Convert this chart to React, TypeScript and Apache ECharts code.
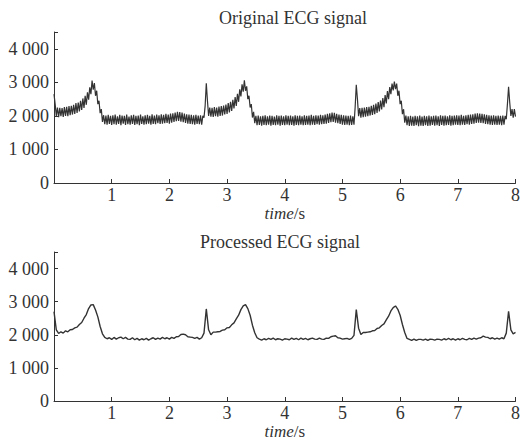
import React, { useEffect, useRef } from "react";
import * as echarts from "echarts";

// sampling steps (seconds)
const DT_ORIGINAL = 0.02;
const DT_PROCESSED = 0.04;

const xTicks = [1, 2, 3, 4, 5, 6, 7, 8];
const yTicks = [0, 1000, 2000, 3000, 4000];

const originalValues = [
  2650, 2350, 2000, 2250, 1960, 2240, 1990, 2230, 1970, 2260,
  2000, 2270, 1990, 2290, 2020, 2300, 2040, 2330, 2060, 2380,
  2090, 2400, 2130, 2450, 2180, 2520, 2240, 2600, 2330, 2700,
  2480, 2850, 2650, 3050, 2780, 2980, 2600, 2750, 2350, 2450,
  2080, 2200, 1820, 2020, 1750, 2010, 1740, 2030, 1760, 2000,
  1730, 2020, 1750, 2040, 1740, 1990, 1760, 2030, 1720, 2010,
  1770, 2000, 1730, 2040, 1750, 1980, 1740, 2020, 1760, 2030,
  1730, 2000, 1750, 2010, 1720, 2040, 1760, 1990, 1740, 2020,
  1750, 2030, 1770, 2000, 1740, 2050, 1760, 2010, 1750, 2040,
  1780, 2020, 1760, 2050, 1770, 2030, 1780, 2060, 1790, 2040,
  1770, 2070, 1800, 2080, 1820, 2100, 1840, 2120, 1850, 2110,
  1830, 2100, 1810, 2070, 1790, 2050, 1770, 2040, 1760, 2030,
  1750, 2020, 1740, 2030, 1760, 2010, 1750, 2020, 1740, 2000,
  1950, 2300, 2970, 2450, 2000, 2250, 1980, 2240, 1970, 2260,
  1990, 2250, 1980, 2280, 2000, 2290, 2010, 2310, 2040, 2340,
  2060, 2380, 2100, 2420, 2150, 2480, 2220, 2560, 2300, 2660,
  2420, 2790, 2580, 2940, 2720, 3060, 2750, 2880, 2500, 2600,
  2250, 2350, 1950, 2120, 1780, 2000, 1720, 2010, 1730, 1990,
  1710, 2000, 1730, 2020, 1720, 1990, 1740, 2010, 1710, 2000,
  1730, 1980, 1720, 2020, 1740, 2000, 1710, 2010, 1730, 1990,
  1720, 2020, 1740, 2000, 1720, 2010, 1730, 1990, 1710, 2020,
  1730, 2000, 1720, 2010, 1740, 1990, 1720, 2020, 1730, 2000,
  1740, 2010, 1720, 2030, 1740, 2000, 1730, 2020, 1750, 2010,
  1740, 2030, 1750, 2020, 1760, 2040, 1770, 2060, 1790, 2080,
  1810, 2100, 1820, 2090, 1800, 2060, 1780, 2040, 1760, 2030,
  1740, 2020, 1730, 2010, 1740, 2000, 1720, 2010, 1730, 1990,
  1740, 2250, 2930, 2500, 1990, 2230, 1950, 2240, 1960, 2250,
  1980, 2260, 1990, 2270, 2010, 2300, 2030, 2330, 2050, 2370,
  2090, 2410, 2130, 2460, 2190, 2530, 2260, 2620, 2370, 2740,
  2500, 2860, 2650, 2960, 2760, 3020, 2800, 2960, 2600, 2750,
  2350, 2450, 2050, 2200, 1800, 2010, 1720, 1990, 1700, 2000,
  1710, 1980, 1700, 2000, 1720, 1990, 1690, 2010, 1710, 1980,
  1700, 2000, 1720, 1990, 1700, 2010, 1710, 1990, 1730, 2000,
  1710, 2010, 1720, 1990, 1700, 2020, 1730, 2000, 1710, 2010,
  1720, 1990, 1730, 2020, 1710, 2000, 1720, 2010, 1740, 2020,
  1730, 2010, 1720, 2030, 1740, 2000, 1730, 2020, 1750, 2030,
  1740, 2040, 1760, 2050, 1770, 2070, 1790, 2080, 1800, 2070,
  1790, 2060, 1780, 2050, 1760, 2030, 1750, 2020, 1740, 2010,
  1730, 2020, 1740, 2000, 1730, 2010, 1740, 2000, 1720, 2010,
  1740, 2000, 1900, 2350, 2870, 2400, 2000, 2200, 1950, 2200,
  1980,
];

const processedValues = [
  2700, 2150, 2040, 2090, 2050, 2120, 2090, 2150, 2160, 2210,
  2230, 2310, 2370, 2500, 2610, 2790, 2900, 2910, 2750, 2540,
  2250, 2030, 1920, 1880, 1910, 1860, 1920, 1870, 1910, 1930,
  1880, 1920, 1870, 1860, 1910, 1850, 1890, 1840, 1880, 1850,
  1890, 1840, 1880, 1910, 1860, 1900, 1870, 1920, 1880, 1910,
  1870, 1920, 1890, 1940, 1950, 2010, 2020, 2000, 1940, 1930,
  1920, 1890, 1920, 1870, 1910, 2050, 2780, 2150, 2000, 2080,
  2080, 2090, 2100, 2140, 2150, 2210, 2220, 2300, 2360, 2480,
  2590, 2760, 2870, 2910, 2790, 2590, 2290, 2060, 1910, 1870,
  1840, 1880, 1850, 1890, 1860, 1900, 1850, 1880, 1870, 1840,
  1880, 1870, 1850, 1900, 1860, 1890, 1850, 1900, 1860, 1890,
  1850, 1880, 1900, 1870, 1860, 1900, 1870, 1860, 1900, 1890,
  1940, 1960, 1970, 1910, 1900, 1870, 1880, 1890, 1860, 1890,
  1980, 2760, 2200, 2010, 2070, 2070, 2080, 2090, 2120, 2130,
  2190, 2210, 2280, 2330, 2450, 2560, 2720, 2820, 2870, 2770,
  2590, 2310, 2070, 1890, 1860, 1830, 1870, 1830, 1860, 1860,
  1840, 1870, 1830, 1870, 1860, 1840, 1870, 1860, 1840, 1880,
  1850, 1890, 1850, 1880, 1840, 1880, 1850, 1890, 1860, 1850,
  1890, 1860, 1900, 1870, 1900, 1910, 1960, 1930, 1920, 1880,
  1910, 1870, 1900, 1870, 1910, 1880, 2050, 2710, 2150, 2030,
  2070,
];

const titles = ["Original ECG signal", "Processed ECG signal"];

const FONT = "Liberation Serif";
const INK = "#333";

function fmtY(v: number): string {
  if (!yTicks.includes(v)) return "";
  if (v >= 1000) {
    const s = String(v);
    return s.slice(0, s.length - 3) + " " + s.slice(s.length - 3);
  }
  return String(v);
}

function fmtX(v: number): string {
  return xTicks.includes(v) ? String(v) : "";
}

export default function App() {
  const ref = useRef<HTMLDivElement>(null);
  useEffect(() => {
    if (!ref.current) return;
    const chart = echarts.init(ref.current, undefined, { renderer: "svg" });
    const toPairs = (arr: number[], dt: number) =>
      arr.map((v, i) => [Number((i * dt).toFixed(3)), v]);

    const grids = [
      { left: 54, top: 32, width: 464, height: 151 },
      { left: 54, top: 252, width: 464, height: 151 },
    ];

    const xAxis = grids.map((_, k) => ({
      type: "value",
      gridIndex: k,
      min: 0,
      max: 8,
      interval: 1,
      axisLine: { show: true, lineStyle: { color: INK, width: 1 } },
      axisTick: { show: true, inside: true, length: 4, lineStyle: { color: INK } },
      splitLine: { show: false },
      axisLabel: {
        formatter: fmtX,
        margin: 3,
        color: INK,
        fontFamily: FONT,
        fontSize: 18,
      },
      name: "{it|time}/s",
      nameLocation: "middle",
      nameGap: 22,
      nameTextStyle: {
        color: INK,
        fontFamily: FONT,
        fontSize: 17,
        rich: {
          it: { fontStyle: "italic", fontFamily: FONT, fontSize: 17, color: INK },
        },
      },
    }));

    const yAxis = grids.map((_, k) => ({
      type: "value",
      gridIndex: k,
      min: 0,
      max: 4500,
      interval: 1000,
      axisLine: { show: true, lineStyle: { color: INK, width: 1 } },
      axisTick: { show: true, inside: true, length: 4, lineStyle: { color: INK } },
      splitLine: { show: false },
      axisLabel: {
        formatter: fmtY,
        margin: 5,
        color: INK,
        fontFamily: FONT,
        fontSize: 18,
      },
    }));

    const option = {
      animation: false,
      backgroundColor: "#fff",
      grid: grids,
      xAxis,
      yAxis,
      graphic: [
        {
          type: "text",
          x: 293,
          y: 18,
          style: {
            text: titles[0],
            align: "center",
            verticalAlign: "middle",
            fontFamily: FONT,
            fontSize: 18,
            fill: INK,
          },
        },
        {
          type: "text",
          x: 280,
          y: 242,
          style: {
            text: titles[1],
            align: "center",
            verticalAlign: "middle",
            fontFamily: FONT,
            fontSize: 18,
            fill: INK,
          },
        },
      ],
      series: [
        {
          type: "line",
          xAxisIndex: 0,
          yAxisIndex: 0,
          data: toPairs(originalValues, DT_ORIGINAL),
          showSymbol: false,
          lineStyle: { color: INK, width: 1.2 },
        },
        {
          type: "line",
          xAxisIndex: 1,
          yAxisIndex: 1,
          data: toPairs(processedValues, DT_PROCESSED),
          showSymbol: false,
          lineStyle: { color: INK, width: 1.4 },
        },
      ],
    };
    chart.setOption(option as any);
    return () => chart.dispose();
  }, []);
  return (
    <div
      ref={ref}
      style={{ position: "fixed", left: 0, top: 0, width: 523, height: 441, background: "#fff" }}
    />
  );
}
